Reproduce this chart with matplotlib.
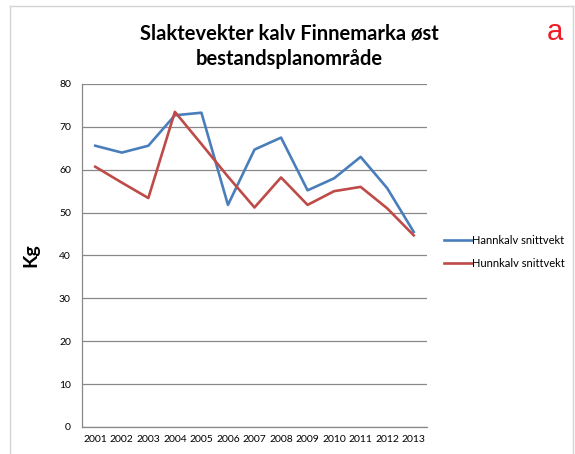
import matplotlib.pyplot as plt
from matplotlib.lines import Line2D

years = ["2001", "2002", "2003", "2004", "2005", "2006", "2007",
         "2008", "2009", "2010", "2011", "2012", "2013"]
hannkalv = [65.6, 64.0, 65.6, 72.7, 73.3, 51.8, 64.7, 67.5, 55.2, 58.0, 63.0, 55.7, 45.5]
hunnkalv = [60.7, 57.0, 53.4, 73.5, 66.0, 58.4, 51.2, 58.2, 51.8, 55.0, 56.0, 51.0, 44.7]
yticks = [0, 10, 20, 30, 40, 50, 60, 70, 80]

plt.rcParams["font.family"] = ["Lato", "DejaVu Sans"]

fig = plt.figure(figsize=(5.75, 4.54), dpi=100)
ax = fig.add_axes([0.1426, 0.0595, 0.6, 0.7555])

x = range(len(years))
ax.plot(x, hannkalv, color="#4a7ebb", lw=1.9, label="Hannkalv snittvekt")
ax.plot(x, hunnkalv, color="#be4b48", lw=1.9, label="Hunnkalv snittvekt")

ax.set_xlim(-0.5, len(years) - 0.5)
ax.set_ylim(0, 80)
ax.set_yticks(yticks)
ax.set_xticks(list(x))
ax.set_xticklabels(years)
ax.tick_params(axis="both", length=0, labelsize=7.5, colors="black")
ax.tick_params(axis="y", pad=8)
ax.tick_params(axis="x", pad=6)
ax.yaxis.grid(True, color="#888888", lw=0.9)
ax.set_axisbelow(True)
for side in ["top", "right"]:
    ax.spines[side].set_visible(False)
for side in ["left", "bottom"]:
    ax.spines[side].set_color("#888888")
    ax.spines[side].set_linewidth(0.9)

ax.set_ylabel("Kg", fontsize=14, fontweight="bold", labelpad=14)

leg = ax.legend(loc="center left", bbox_to_anchor=(1.02, 0.51), frameon=False,
                fontsize=8, handlelength=2.5, handletextpad=0.0,
                labelspacing=1.1)

fig.text(0.503, 0.927, "Slaktevekter kalv Finnemarka øst", ha="center", va="center",
         fontsize=14.5, fontweight="bold")
fig.text(0.503, 0.870, "bestandsplanområde", ha="center", va="center",
         fontsize=14.5, fontweight="bold")
fig.text(0.965, 0.93, "a", ha="center", va="center", fontsize=21,
         color="#ee1c25", family="Liberation Sans")

# outer chart border
border = "#d4d4d4"
fig.add_artist(Line2D([10 / 575, 10 / 575], [0, 1 - 6 / 454], color=border, lw=1))
fig.add_artist(Line2D([10 / 575, 573 / 575], [1 - 6 / 454, 1 - 6 / 454], color=border, lw=1))
fig.add_artist(Line2D([573 / 575, 573 / 575], [0, 1 - 6 / 454], color=border, lw=1))

fig.savefig("out.png", dpi=100)
